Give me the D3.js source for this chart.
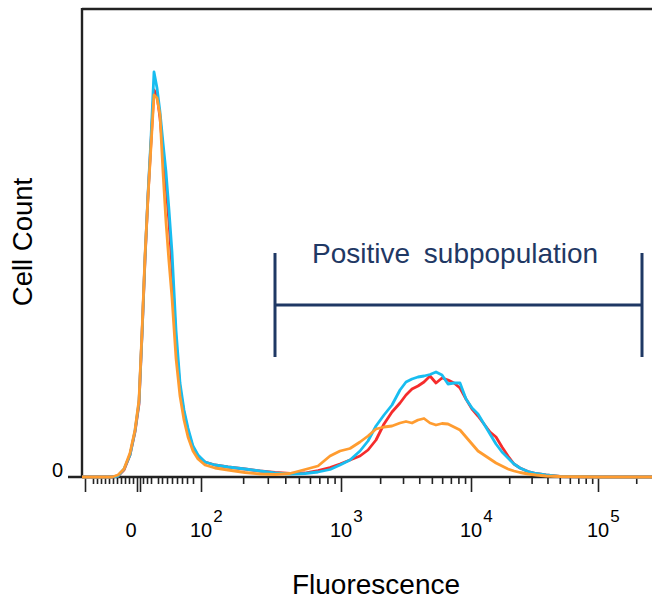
<!DOCTYPE html>
<html>
<head>
<meta charset="utf-8">
<script src="https://cdn.jsdelivr.net/npm/d3@7"></script>
<style>
  body { margin: 0; background: #fff; }
  text { font-family: "Liberation Sans", Arial, sans-serif; fill: #000; }
</style>
</head>
<body>
<div id="chart"></div>
<script>
// histogram channels (display units) shared by all three samples
const channels = [0,18,30,36,42,48,53,57,60,63, 66,69,72,75,78,81,84,87,90,94,
    98,102,106,111,116,123,133,146,163,178, 193,208,223,236,248,258,268,278,286,294,
    302,310,318,324,330,336,342,348,354,360, 366,372,378,384,390,396,402,408,414,420,
    426,432,438,446,454,464,478,518,570];

const redCounts = [0,0,0,1,7,22,45,73,142,217, 281,335,387,382,359,325,292,255,209,135,
    88,64,46,29,21,15,12,10,8,6, 4.5,3.5,4,6.5,9.5,13,17,21,27,37,
    53,65,74,82,88,91,95,101,94,99, 97,94,89,78,68,61,53,45,40,30,
    21,13,9,5.5,3.5,2,0.5,0,0];

const cyanCounts = [0,0,0,1,8,22,46,75,142,219, 283,339,405,389,365,334,305,267,225,147,
    94,67,49,31,22,15,12,10,8,6, 4,3,3.5,5,7.5,12,17,26,36,51,
    62,72,87,95,98,100,101,102.5,105,102, 93,94,94,78,69,63,53,43,33,25,
    19,13,9,5.5,3.5,2,0.5,0,0];

const orangeCounts = [0,0,0,2,8,24,47,77,145,221, 280,331,382,379,362,305,255,215,179,119,
    81,57,40,26,18,12,9,7,4.5,3, 2.5,3.5,7.5,11,21,26,28.5,35,41,48,
    50,51,54,55.5,54,57,58.5,54,52,53.5, 53,50,47,40,33,26,22,18,14,11,
    8,6,4.5,3,2,1,0.5,0,0];

// axis: channel position of each decade and of the zero region
const decadeChannels = [119, 259, 389, 516];
const decadeExponents = ["2", "3", "4", "5"];
const zeroChannel = 57;
const lowMinorTicks = [11,15,19,23,27,31,35,39,43,47,51,61,65,69,76,80,85,90,95,100,105,111];
const lowMajorTicks = [3, 55, 58];

// gate annotation
const gateChannels = [193, 560];
const gateCounts = [224, 120];
const gateLevel = 172;
const gateLabel = "Positive subpopulation";

const chartWidth = 652, chartHeight = 603;
const plotLeft = 82, plotRight = 652, plotTop = 9, plotBottom = 477;

const svg = d3.select("#chart").append("svg")
    .attr("width", chartWidth)
    .attr("height", chartHeight);

const x = d3.scaleLinear().domain([0, 570]).range([plotLeft, plotRight]);
const y = d3.scaleLinear().domain([0, 468]).range([plotBottom, plotTop]);

// minor log ticks inside each decade
const minorTicks = lowMinorTicks.slice();
decadeChannels.forEach((ch, i) => {
    const span = i < decadeChannels.length - 1 ? decadeChannels[i + 1] - ch : decadeChannels[i] - decadeChannels[i - 1];
    for (let k = 2; k <= 9; k++) {
        const t = ch + Math.log10(k) * span;
        if (t <= 570) minorTicks.push(t);
    }
});
const majorTicks = lowMajorTicks.concat(decadeChannels);

const minorAxis = d3.axisBottom(x).tickValues(minorTicks).tickSize(7).tickFormat("");
const majorAxis = d3.axisBottom(x).tickValues(majorTicks).tickSize(15).tickFormat("");

[minorAxis, majorAxis].forEach(ax => {
    const g = svg.append("g")
        .attr("transform", `translate(0,${plotBottom})`)
        .call(ax);
    g.select(".domain").remove();
    g.selectAll("line").attr("stroke", "#222").attr("stroke-width", 1.6);
});

// frame: top border, left axis, bottom axis
svg.append("line").attr("x1", plotLeft).attr("x2", plotRight).attr("y1", plotTop).attr("y2", plotTop)
    .attr("stroke", "#222").attr("stroke-width", 2.4);
svg.append("line").attr("x1", plotLeft).attr("x2", plotLeft).attr("y1", plotTop - 1).attr("y2", plotBottom)
    .attr("stroke", "#222").attr("stroke-width", 2.4);
svg.append("line").attr("x1", 68).attr("x2", plotRight).attr("y1", plotBottom).attr("y2", plotBottom)
    .attr("stroke", "#222").attr("stroke-width", 2.4);

// histogram lines
const line = d3.line()
    .x((d, i) => x(channels[i]))
    .y(d => y(d));

const series = [
    { counts: redCounts, color: "#f52c2c" },
    { counts: cyanCounts, color: "#18bdf0" },
    { counts: orangeCounts, color: "#ff9c30" }
];

svg.selectAll("path.hist")
    .data(series)
    .enter().append("path")
    .attr("class", "hist")
    .attr("d", d => line(d.counts))
    .attr("fill", "none")
    .attr("stroke", d => d.color)
    .attr("stroke-width", 2.8)
    .attr("stroke-linejoin", "round");

// gate bracket
const navy = "#1f3864";
svg.append("line")
    .attr("x1", x(gateChannels[0])).attr("x2", x(gateChannels[1]))
    .attr("y1", y(gateLevel)).attr("y2", y(gateLevel))
    .attr("stroke", navy).attr("stroke-width", 3);
gateChannels.forEach(ch => {
    svg.append("line")
        .attr("x1", x(ch)).attr("x2", x(ch))
        .attr("y1", y(gateCounts[0])).attr("y2", y(gateCounts[1]))
        .attr("stroke", navy).attr("stroke-width", 3);
});
svg.append("text")
    .attr("x", 312)
    .attr("y", 263)
    .style("font-size", "28px")
    .style("word-spacing", "6px")
    .style("fill", navy)
    .text(gateLabel);

// tick labels
svg.append("text")
    .attr("x", x(zeroChannel) - 8)
    .attr("y", 537)
    .attr("text-anchor", "middle")
    .style("font-size", "20px")
    .text("0");

decadeChannels.forEach((ch, i) => {
    const t = svg.append("text")
        .attr("x", x(ch) - 11)
        .attr("y", 537)
        .style("font-size", "20px");
    t.append("tspan").text("10");
    t.append("tspan")
        .attr("dy", -15)
        .attr("dx", 1)
        .style("font-size", "17px")
        .text(decadeExponents[i]);
});

svg.append("text")
    .attr("x", 63)
    .attr("y", plotBottom)
    .attr("text-anchor", "end")
    .style("font-size", "20px")
    .text("0");

// axis titles
svg.append("text")
    .attr("x", 376)
    .attr("y", 594)
    .attr("text-anchor", "middle")
    .style("font-size", "28px")
    .text("Fluorescence");

svg.append("text")
    .attr("transform", "translate(32,242) rotate(-90)")
    .attr("text-anchor", "middle")
    .style("font-size", "27.5px")
    .text("Cell Count");
</script>
</body>
</html>
